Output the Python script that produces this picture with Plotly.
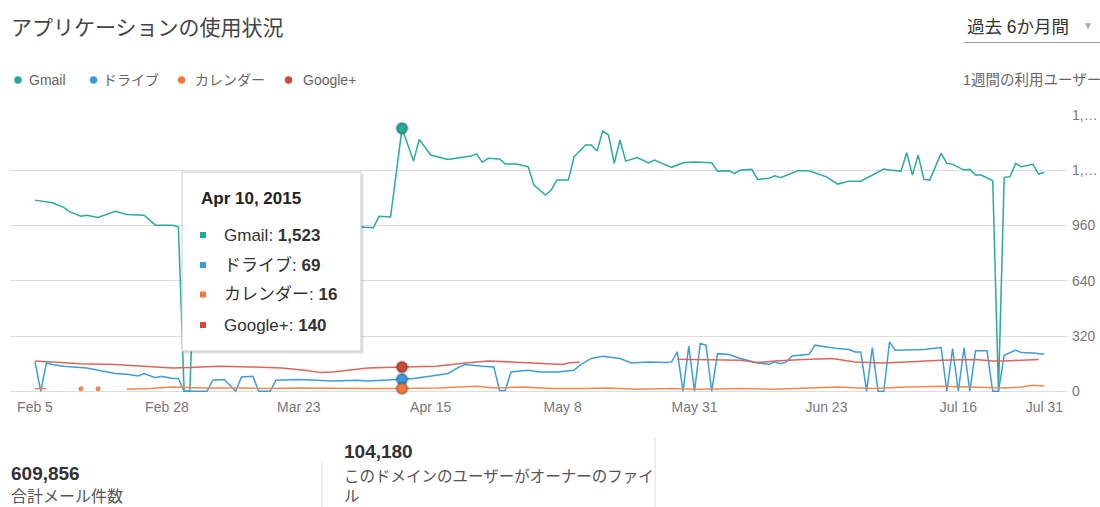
import pandas as pd
import plotly.graph_objects as go

# ---------------- data ----------------
START = "2015-02-05"
series_names = ["Gmail", "ドライブ", "カレンダー", "Google+"]
series_colors = ["#25a99a", "#3a9bdc", "#f07b3f", "#d04a3c"]
line_colors = ["#2aab9c", "#3d9dda", "#f08a55", "#d9665a"]

gmail_day = [0, 3, 5, 6, 8, 9, 11, 12, 14, 16, 19, 21, 24, 25, 26, 27, 28, 36, 46, 54, 58, 59, 60, 62,
             64, 66, 67, 69, 72, 74, 76, 77, 78, 79, 81, 82, 84, 86, 87, 89, 90, 91, 93, 94, 96, 97, 98,
             99, 100, 101, 102, 103, 105, 107, 108, 111, 113, 115, 118, 119, 121, 122, 123, 125, 126,
             128, 129, 130, 133, 135, 138, 140, 142, 144, 146, 148, 149, 151, 152, 153, 154, 155, 156,
             158, 159, 160, 162, 163, 164, 165, 167, 168, 169, 170, 171, 172, 174, 175, 176]
gmail_val = [1107, 1092, 1065, 1040, 1014, 1020, 1007, 1020, 1043, 1024, 1020, 962, 962, 952, 0, 0, 955,
             958, 950, 955, 950, 947, 1014, 1010,
             1523, 1333, 1459, 1368, 1343, 1354, 1362, 1374, 1326, 1349, 1345, 1316, 1316, 1300, 1194,
             1136, 1165, 1223, 1223, 1358, 1426, 1426, 1391,
             1507, 1484, 1320, 1455, 1333, 1354, 1323, 1339, 1297, 1323, 1328, 1323, 1275, 1277, 1262,
             1281, 1285, 1227,
             1233, 1248, 1237, 1277, 1277, 1242, 1200, 1217, 1217, 1252, 1287, 1281, 1275, 1381, 1252,
             1368, 1227, 1223,
             1378, 1320, 1314, 1281, 1285, 1252, 1252, 1219, 0, 1239, 1242, 1320, 1300, 1314, 1258, 1268]

drive_day = [0, 1, 2, 3, 5, 7, 9, 11, 14, 16, 18, 19, 21, 22, 24, 25, 26, 30, 31, 33, 35, 36, 38, 39, 41,
             42, 46, 49, 52, 56, 58, 64, 66, 70, 72, 74, 75, 78, 80, 81, 82, 83, 86, 88, 91, 94, 95, 97,
             99, 100, 102, 104, 107, 110, 111, 112, 113, 114, 115, 116, 117, 118, 119, 121, 123, 126,
             128, 129, 130, 131, 132, 135, 136, 138, 140, 142, 143, 144, 145, 146, 147, 148, 149, 150,
             153, 155, 158, 159, 160, 161, 162, 163, 164, 166, 167, 168, 169, 170, 171, 172, 174, 176]
drive_val = [170, 0, 164, 155, 145, 141, 135, 122, 103, 99, 89, 103, 79, 87, 74, 74, 0, 0, 64, 68, 0, 83,
             87, 0, 0,
             64, 68, 64, 60, 64, 60, 69, 74, 93, 103, 141, 155, 145, 141, 5, 5, 112, 122, 112, 112, 122,
             151, 190,
             203, 199, 190, 164, 170, 166, 170, 228, 0, 261, 0, 277, 267, 0, 218, 213, 190, 164,
             157, 170, 160, 170, 205, 214, 267, 257, 247, 242, 228, 228, 0, 253, 0, 0, 286, 238,
             242, 242, 253, 0, 247, 0, 253, 0, 234, 234, 0, 0, 209, 222, 238, 224, 222, 214]

calendar_day = [0, 2, 5, 8, 9, 11, 13, 16, 20, 24, 29, 35, 40, 46, 52, 58, 64, 70, 77, 80, 85, 90, 96,
                100, 105, 111, 116, 123, 129, 134, 140, 146, 152, 158, 164, 169, 172, 174, 176]
calendar_val = [15, 15, None, 15, None, 15, None, 12, 16, 25, 19, 19, 16, 19, 16, 16, 16, 19, 29, 19,
                25, 16, 16, 19, 12, 16, 12, 16, 12, 19, 25, 16, 25, 29, 25, 19, 25, 35, 31]

gplus_day = [0, 3, 8, 14, 20, 24, 27, 32, 38, 43, 47, 50, 52, 55, 58, 64, 70, 75, 79, 83, 89, 92, 93, 95,
             103, 112, 123, 126, 129, 134, 139, 143, 148, 152, 158, 164, 167, 169, 172, 175]
gplus_val = [176, 170, 160, 155, 145, 135, 137, 145, 141, 135, 122, 108, 112, 122, 135, 140, 145, 164,
             176, 170, 160, 155, 164, 170,
             None, 186, 180, 166, 176, 184, 190, 170, 164, 170, 180, 184, 176, 176, 180, 184]

hover_day = 64

x_tick_dates = ["2015-02-05", "2015-02-28", "2015-03-23", "2015-04-15", "2015-05-08",
                "2015-05-31", "2015-06-23", "2015-07-16", "2015-07-31"]
x_tick_text = ["Feb 5", "Feb 28", "Mar 23", "Apr 15", "May 8", "May 31", "Jun 23", "Jul 16", "Jul 31"]
y_tick_vals = [0, 320, 640, 960, 1280, 1600]
y_tick_text = ["0", "320", "640", "960", "1,…", "1,…"]

title_text = "アプリケーションの使用状況"
period_text = "過去 6か月間"
axis_title_text = "1週間の利用ユーザー"
stat_values = [609856, 104180]
stat_labels = ["合計メール件数", "このドメインのユーザーがオーナーのファイ<br>ル"]

# ---------------- helpers ----------------
start = pd.Timestamp(START)


def to_dates(days):
    return [start + pd.Timedelta(days=d) for d in days]


all_days = [gmail_day, drive_day, calendar_day, gplus_day]
all_vals = [gmail_val, drive_val, calendar_val, gplus_val]

W, H = 1100, 507
L, R, T, B = 10, 1067, 115, 393


def px(x):
    return (x - L) / (R - L)


def py(y):
    return (B - y) / (B - T)


FONT = "Liberation Sans, Arial, Noto Sans CJK JP, sans-serif"


def note(text, x, y, size, color, xanchor="left", yanchor="middle", **kw):
    return dict(text=text, x=px(x), y=py(y), xref="paper", yref="paper", xanchor=xanchor,
                yanchor=yanchor, showarrow=False, font=dict(size=size, color=color, family=FONT), **kw)


fig = go.Figure()

# lines
for name, color, days, vals in zip(series_names, line_colors, all_days, all_vals):
    fig.add_trace(go.Scatter(
        x=to_dates(days), y=vals, mode="lines", name=name,
        line=dict(color=color, width=1.5), connectgaps=False, showlegend=False,
        hoverinfo="skip"))
    # isolated points (between gaps) drawn as dots
    iso_x, iso_y = [], []
    for i, v in enumerate(vals):
        if v is None:
            continue
        prev_none = i == 0 or vals[i - 1] is None
        next_none = i == len(vals) - 1 or vals[i + 1] is None
        if prev_none and next_none:
            iso_x.append(days[i])
            iso_y.append(v)
    if iso_x:
        fig.add_trace(go.Scatter(
            x=to_dates(iso_x), y=iso_y, mode="markers", showlegend=False,
            marker=dict(color=color, size=5), hoverinfo="skip", cliponaxis=False))

# hover highlight markers
hover_vals = [vals[days.index(hover_day)] for days, vals in zip(all_days, all_vals)]
for idx in [0, 3, 1, 2]:
    fig.add_trace(go.Scatter(
        x=to_dates([hover_day]), y=[hover_vals[idx]], mode="markers", showlegend=False,
        marker=dict(color=series_colors[idx], size=11,
                    line=dict(color="rgba(0,0,0,0.2)", width=2.5)),
        hoverinfo="skip", cliponaxis=False))

shapes = []
annotations = []

# title
annotations.append(note(title_text, 9, 28, 21, "#444"))
# period selector
annotations.append(note(period_text, 965, 27, 17.5, "#333"))
annotations.append(note("▼", 1088, 25.5, 10, "#aaa", xanchor="center"))
shapes.append(dict(type="line", xref="paper", yref="paper", x0=px(964), x1=px(1100),
                   y0=py(42.5), y1=py(42.5), line=dict(color="#999", width=1.2)))
# axis title
annotations.append(note(axis_title_text, 961, 80, 14.5, "#666"))

# legend
legend_dot_x = [18, 93.5, 181.5, 288.5]
legend_text_x = [26.5, 101, 192.5, 301]
for name, color, dx, tx in zip(series_names, series_colors, legend_dot_x, legend_text_x):
    shapes.append(dict(type="circle", xref="paper", yref="paper",
                       x0=px(dx - 3.7), x1=px(dx + 3.7), y0=py(80 + 3.7), y1=py(80 - 3.7),
                       fillcolor=color, line=dict(width=0)))
    annotations.append(note(name, tx, 80, 14, "#666"))

# tooltip box
shapes.append(dict(type="rect", xref="paper", yref="paper", x0=px(184), x1=px(363.5),
                   y0=py(174), y1=py(353.5), fillcolor="rgba(0,0,0,0.12)", line=dict(width=0)))
shapes.append(dict(type="rect", xref="paper", yref="paper", x0=px(182), x1=px(361),
                   y0=py(172), y1=py(351), fillcolor="white", line=dict(color="#cccccc", width=1)))
hover_date = start + pd.Timedelta(days=hover_day)
date_label = hover_date.strftime("%b ") + str(hover_date.day) + hover_date.strftime(", %Y")
annotations.append(note("<b>" + date_label + "</b>", 199, 198.5, 17, "#222"))
item_y = [235, 265, 294.5, 325]
for name, color, v, yy in zip(series_names, series_colors, hover_vals, item_y):
    shapes.append(dict(type="rect", xref="paper", yref="paper", x0=px(200), x1=px(206),
                       y0=py(yy + 3), y1=py(yy - 3), fillcolor=color, line=dict(width=0)))
    annotations.append(note(f"{name}: <b>{v:,}</b>", 222, yy, 17, "#333"))

# bottom statistics
annotations.append(note(f"<b>{stat_values[0]:,}</b>", 9, 473, 19, "#333"))
annotations.append(note(stat_labels[0], 9, 497, 16, "#555"))
annotations.append(note(f"<b>{stat_values[1]:,}</b>", 342, 451, 19, "#333"))
annotations.append(note(stat_labels[1], 342, 486, 15.5, "#555", align="left"))
shapes.append(dict(type="line", xref="paper", yref="paper", x0=px(322), x1=px(322),
                   y0=py(462), y1=py(507), line=dict(color="#dddddd", width=1)))
shapes.append(dict(type="line", xref="paper", yref="paper", x0=px(655), x1=px(655),
                   y0=py(437), y1=py(507), line=dict(color="#dddddd", width=1)))

x_range = [start - pd.Timedelta(days=4.36), start + pd.Timedelta(days=179.95)]

fig.update_layout(
    width=W, height=H, autosize=False,
    margin=dict(l=L, r=W - R, t=T, b=H - B, pad=0, autoexpand=False),
    paper_bgcolor="white", plot_bgcolor="white",
    font=dict(family=FONT, color="#777"),
    showlegend=False,
    shapes=shapes, annotations=annotations,
    xaxis=dict(type="date", range=x_range, tickvals=x_tick_dates, ticktext=x_tick_text,
               showgrid=False, zeroline=False, showline=False, ticks="", automargin=False,
               tickfont=dict(size=14, color="#777", family=FONT), ticklabelstandoff=4),
    yaxis=dict(side="right", range=[-10, 1600], tickvals=y_tick_vals, ticktext=y_tick_text,
               showgrid=True, gridcolor="#dddddd", gridwidth=1, zeroline=False, showline=False,
               ticks="", automargin=False,
               tickfont=dict(size=14, color="#777", family=FONT), ticklabelstandoff=4),
)

fig.write_html("out.html", config={"displayModeBar": False},
               post_script="document.body.style.margin='0';document.body.style.overflow='hidden';")
